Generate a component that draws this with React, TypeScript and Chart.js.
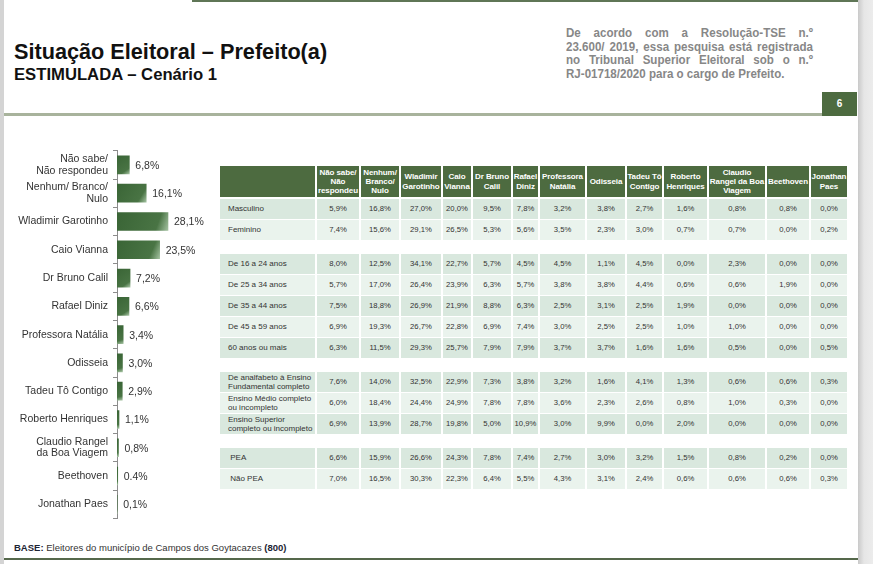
import React, { useEffect, useRef } from "react";
import { Chart, registerables } from "chart.js";

Chart.register(...registerables);

// ---------- Bar chart data ----------
const barLabels: (string | string[])[] = [
  ["Não sabe/", "Não respondeu"],
  ["Nenhum/ Branco/", "Nulo"],
  "Wladimir Garotinho",
  "Caio Vianna",
  "Dr Bruno Calil",
  "Rafael Diniz",
  "Professora Natália",
  "Odisseia",
  "Tadeu Tô Contigo",
  "Roberto Henriques",
  ["Claudio Rangel", "da Boa Viagem"],
  "Beethoven",
  "Jonathan Paes",
];
const barValues = [6.8, 16.1, 28.1, 23.5, 7.2, 6.6, 3.4, 3.0, 2.9, 1.1, 0.8, 0.4, 0.1];
const barValueLabels = ["6,8%", "16,1%", "28,1%", "23,5%", "7,2%", "6,6%", "3,4%", "3,0%", "2,9%", "1,1%", "0,8%", "0.4%", "0,1%"];

// ---------- Table data ----------
const tableColumns = [
  "Não sabe/\nNão\nrespondeu",
  "Nenhum/\nBranco/\nNulo",
  "Wladimir\nGarotinho",
  "Caio\nVianna",
  "Dr Bruno\nCalil",
  "Rafael\nDiniz",
  "Professora\nNatália",
  "Odisseia",
  "Tadeu Tô\nContigo",
  "Roberto\nHenriques",
  "Claudio\nRangel da Boa\nViagem",
  "Beethoven",
  "Jonathan\nPaes",
];

const genderLabels = ["Masculino", "Feminino"];
const genderValues = [
  [5.9, 16.8, 27.0, 20.0, 9.5, 7.8, 3.2, 3.8, 2.7, 1.6, 0.8, 0.8, 0.0],
  [7.4, 15.6, 29.1, 26.5, 5.3, 5.6, 3.5, 2.3, 3.0, 0.7, 0.7, 0.0, 0.2],
];

const ageLabels = ["De 16 a 24 anos", "De 25 a 34 anos", "De 35 a 44 anos", "De 45 a 59 anos", "60 anos ou mais"];
const ageValues = [
  [8.0, 12.5, 34.1, 22.7, 5.7, 4.5, 4.5, 1.1, 4.5, 0.0, 2.3, 0.0, 0.0],
  [5.7, 17.0, 26.4, 23.9, 6.3, 5.7, 3.8, 3.8, 4.4, 0.6, 0.6, 1.9, 0.0],
  [7.5, 18.8, 26.9, 21.9, 8.8, 6.3, 2.5, 3.1, 2.5, 1.9, 0.0, 0.0, 0.0],
  [6.9, 19.3, 26.7, 22.8, 6.9, 7.4, 3.0, 2.5, 2.5, 1.0, 1.0, 0.0, 0.0],
  [6.3, 11.5, 29.3, 25.7, 7.9, 7.9, 3.7, 3.7, 1.6, 1.6, 0.5, 0.0, 0.5],
];

const educationLabels = [
  "De analfabeto à Ensino\nFundamental completo",
  "Ensino Médio completo\nou incompleto",
  "Ensino Superior\ncompleto ou incompleto",
];
const educationValues = [
  [7.6, 14.0, 32.5, 22.9, 7.3, 3.8, 3.2, 1.6, 4.1, 1.3, 0.6, 0.6, 0.3],
  [6.0, 18.4, 24.4, 24.9, 7.8, 7.8, 3.6, 2.3, 2.6, 0.8, 1.0, 0.3, 0.0],
  [6.9, 13.9, 28.7, 19.8, 5.0, 10.9, 3.0, 9.9, 0.0, 2.0, 0.0, 0.0, 0.0],
];

const peaLabels = [" PEA", " Não PEA"];
const peaValues = [
  [6.6, 15.9, 26.6, 24.3, 7.8, 7.4, 2.7, 3.0, 3.2, 1.5, 0.8, 0.2, 0.0],
  [7.0, 16.5, 30.3, 22.3, 6.4, 5.5, 4.3, 3.1, 2.4, 0.6, 0.6, 0.6, 0.3],
];

const noteLines = [
  "De acordo com a Resolução-TSE n.º",
  "23.600/ 2019, essa pesquisa está registrada",
  "no Tribunal Superior Eleitoral sob o n.º",
  "RJ-01718/2020 para o cargo de Prefeito.",
];

// ---------- layout constants ----------
const SANS = '"Liberation Sans", Arial, sans-serif';
const colEdges = [220, 317, 361, 401, 443, 473, 513, 540, 587, 627, 664, 709, 767, 811, 849];
const HEADER_GREEN = "#4d6b40";
const ROW_DARK = "#d9e8de";
const ROW_LIGHT = "#eaf3ed";

const fmt = (v: number) => v.toFixed(1).replace(".", ",") + "%";

function BarChart() {
  const ref = useRef<HTMLCanvasElement | null>(null);
  useEffect(() => {
    if (!ref.current) return;
    const labelPlugin = {
      id: "valueLabels",
      afterDatasetsDraw(chart: any) {
        const ctx = chart.ctx;
        const meta = chart.getDatasetMeta(0);
        ctx.save();
        ctx.font = `10.5px ${SANS}`;
        ctx.fillStyle = "#333333";
        ctx.textBaseline = "middle";
        ctx.textAlign = "left";
        meta.data.forEach((bar: any, i: number) => {
          ctx.fillText(barValueLabels[i], bar.x + 6, bar.y + 1);
        });
        ctx.restore();
      },
    };
    const chart = new Chart(ref.current, {
      type: "bar",
      data: {
        labels: barLabels as any,
        datasets: [
          {
            data: barValues,
            barThickness: 18,
            borderWidth: 0,
            backgroundColor: (c: any) => {
              const ch = c.chart;
              const xs = ch.scales?.x;
              const ys = ch.scales?.y;
              if (!xs || !ys || c.dataIndex === undefined) return "#3f6b3b";
              const x0 = xs.getPixelForValue(0);
              const x1 = xs.getPixelForValue(c.raw as number);
              const yc = ys.getPixelForValue(c.dataIndex);
              if (!isFinite(x0) || !isFinite(x1) || !isFinite(yc)) return "#3f6b3b";
              const g = ch.ctx.createLinearGradient(x0, yc - 9, Math.max(x1, x0 + 1), yc + 9);
              g.addColorStop(0, "#3a6536");
              g.addColorStop(0.78, "#497444");
              g.addColorStop(1, "#a3c1a0");
              return g;
            },
          },
        ],
      },
      options: {
        animation: false,
        responsive: false,
        maintainAspectRatio: false,
        indexAxis: "y",
        layout: { padding: { top: 10, bottom: 12, left: 0, right: 0 } },
        plugins: { legend: { display: false }, tooltip: { enabled: false } },
        scales: {
          x: { display: false, min: 0, max: 54 },
          y: {
            grid: { display: true, drawOnChartArea: false, offset: true, tickLength: 4, color: "#8c8c8c" },
            border: { display: true, color: "#8c8c8c" },
            ticks: {
              autoSkip: false,
              color: "#333333",
              padding: 5,
              font: { family: SANS, size: 10.5, lineHeight: 1.1 },
            },
            afterFit: (s: any) => {
              s.width = 117;
            },
          },
        },
      } as any,
      plugins: [labelPlugin],
    });
    return () => chart.destroy();
  }, []);
  return (
    <canvas
      ref={ref}
      width={215}
      height={395}
      style={{ position: "absolute", left: 0, top: 140, width: 215, height: 395 }}
    />
  );
}

function DataTable() {
  const groups = [
    { labels: genderLabels, values: genderValues },
    { labels: ageLabels, values: ageValues },
    { labels: educationLabels, values: educationValues },
    { labels: peaLabels, values: peaValues },
  ];
  const cells: React.ReactNode[] = [];
  cells.push(
    <div
      key="h0"
      style={{ position: "absolute", left: colEdges[0], top: 166, width: colEdges[1] - colEdges[0] - 2, height: 31, background: HEADER_GREEN }}
    />
  );
  tableColumns.forEach((h, i) => {
    const l = colEdges[i + 1];
    const w = colEdges[i + 2] - l - 2;
    cells.push(
      <div
        key={"h" + (i + 1)}
        style={{
          position: "absolute",
          left: l,
          top: 166,
          width: w,
          height: 31,
          background: HEADER_GREEN,
          color: "#ffffff",
          fontFamily: SANS,
          fontWeight: "bold",
          fontSize: 8,
          lineHeight: "9.3px",
          whiteSpace: "pre-line",
          textAlign: "center",
          display: "flex",
          alignItems: "center",
          justifyContent: "center",
          letterSpacing: -0.1,
        }}
      >
        {h}
      </div>
    );
  });
  let y = 199;
  groups.forEach((g, gi) => {
    g.labels.forEach((lab, ri) => {
      const bg = ri % 2 === 0 ? ROW_DARK : ROW_LIGHT;
      cells.push(
        <div
          key={`r${gi}-${ri}-l`}
          style={{
            position: "absolute",
            left: colEdges[0],
            top: y,
            width: colEdges[1] - colEdges[0] - 2,
            height: 20,
            background: bg,
            color: "#333333",
            fontFamily: SANS,
            fontSize: 8,
            lineHeight: "9.5px",
            whiteSpace: "pre",
            display: "flex",
            alignItems: "center",
            paddingLeft: 8,
            boxSizing: "border-box",
          }}
        >
          {lab}
        </div>
      );
      g.values[ri].forEach((v, ci) => {
        const l = colEdges[ci + 1];
        const w = colEdges[ci + 2] - l - 2;
        cells.push(
          <div
            key={`r${gi}-${ri}-${ci}`}
            style={{
              position: "absolute",
              left: l,
              top: y,
              width: w,
              height: 20,
              background: bg,
              color: "#333333",
              fontFamily: SANS,
              fontSize: 7.7,
              lineHeight: "20px",
              textAlign: "center",
            }}
          >
            {fmt(v)}
          </div>
        );
      });
      y += 21;
    });
    y += 13;
  });
  return <>{cells}</>;
}

export default function App() {
  useEffect(() => {
    document.body.style.margin = "0";
  }, []);
  const NOTE_SCALE = 0.94;
  return (
    <div
      style={{
        position: "fixed",
        left: 0,
        top: 0,
        width: 873,
        height: 564,
        background: "#ffffff",
        overflow: "hidden",
        fontFamily: SANS,
      }}
    >
      {/* side strips */}
      <div style={{ position: "absolute", left: 0, top: 0, width: 4, height: 564, background: "#d4d4d4" }} />
      <div
        style={{
          position: "absolute",
          left: 858,
          top: 0,
          width: 15,
          height: 564,
          background: "linear-gradient(to right, #c9c9c9, #e6e6e6 40%, #ececec)",
        }}
      />
      {/* top green line */}
      <div style={{ position: "absolute", left: 192, top: 0, width: 666, height: 2, background: "#5f7656" }} />
      {/* title */}
      <div
        style={{
          position: "absolute",
          left: 14,
          top: 38,
          fontFamily: SANS,
          fontWeight: "bold",
          fontSize: 22,
          color: "#111111",
          whiteSpace: "nowrap",
          lineHeight: "27px",
          transform: "scaleX(0.985)",
          transformOrigin: "left center",
        }}
      >
        Situação Eleitoral – Prefeito(a)
      </div>
      <div
        style={{
          position: "absolute",
          left: 14,
          top: 65,
          fontFamily: SANS,
          fontWeight: "bold",
          fontSize: 17,
          color: "#111111",
          whiteSpace: "nowrap",
          lineHeight: "20px",
          transform: "scaleX(0.98)",
          transformOrigin: "left center",
        }}
      >
        ESTIMULADA – Cenário 1
      </div>
      {/* note */}
      <div
        style={{
          position: "absolute",
          left: 566,
          top: 27,
          width: 247 / NOTE_SCALE,
          transform: `scaleX(${NOTE_SCALE})`,
          transformOrigin: "left top",
          fontFamily: SANS,
          fontWeight: "bold",
          fontSize: 12.3,
          lineHeight: "13.5px",
          color: "#878787",
        }}
      >
        {noteLines.map((t, i) => (
          <div
            key={i}
            style={{
              whiteSpace: "nowrap",
              textAlign: i < noteLines.length - 1 ? "justify" : "left",
              textAlignLast: i < noteLines.length - 1 ? "justify" : "left",
            } as any}
          >
            {t}
          </div>
        ))}
      </div>
      {/* separator line and page number */}
      <div style={{ position: "absolute", left: 4, top: 113, width: 818, height: 3, background: "#a8b39c" }} />
      <div
        style={{
          position: "absolute",
          left: 822,
          top: 92,
          width: 35,
          height: 24,
          background: HEADER_GREEN,
          color: "#ffffff",
          fontFamily: SANS,
          fontWeight: "bold",
          fontSize: 10,
          lineHeight: "24px",
          textAlign: "center",
        }}
      >
        6
      </div>
      <BarChart />
      <DataTable />
      {/* base */}
      <div
        style={{
          position: "absolute",
          left: 14,
          top: 542,
          fontFamily: SANS,
          fontSize: 9.5,
          color: "#333333",
          whiteSpace: "nowrap",
          lineHeight: "12px",
        }}
      >
        <b style={{ color: "#1c2433" }}>BASE:</b> Eleitores do município de Campos dos Goytacazes{" "}
        <b style={{ color: "#1c2433" }}>(800)</b>
      </div>
      <div style={{ position: "absolute", left: 4, top: 558, width: 854, height: 1.5, background: "#55684b" }} />
    </div>
  );
}
